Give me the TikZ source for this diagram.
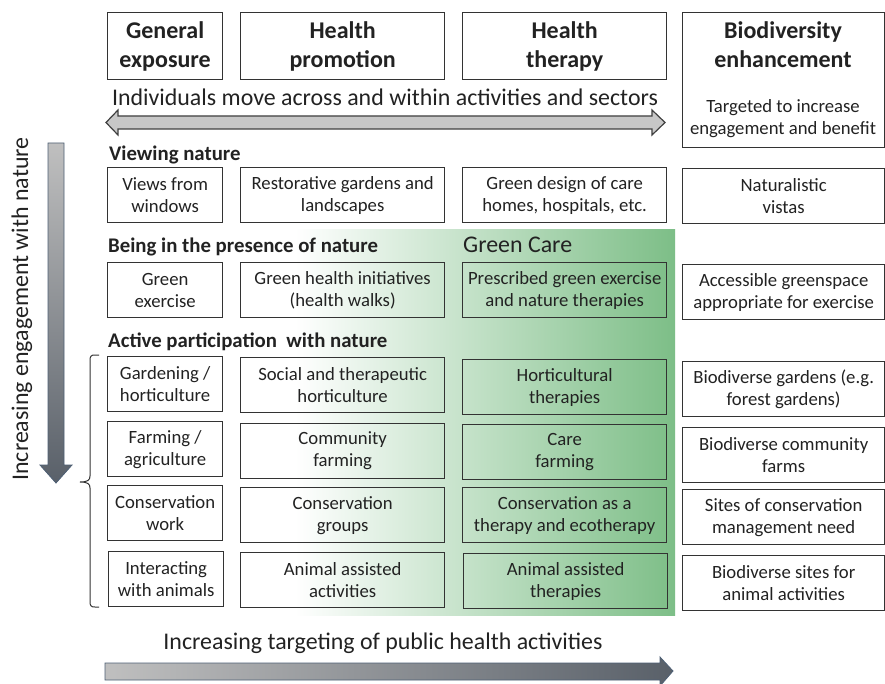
\documentclass[tikz,border=0pt]{standalone}
\usepackage{fontspec}
\setmainfont{Carlito}
\usetikzlibrary{calc}
\definecolor{txt}{HTML}{222222}
\definecolor{gc}{HTML}{7DBE87}
\definecolor{edgec}{HTML}{333333}
\definecolor{slate}{HTML}{596069}
\definecolor{slateedge}{HTML}{4E6075}
\newcommand\cellfont{\fontsize{18.7}{22}\selectfont}
\newcommand\hdrfont{\fontsize{24}{29}\selectfont\bfseries}
\newcommand\secfont{\fontsize{20.8}{24}\selectfont\bfseries}
\newcommand\bigfont{\fontsize{23.9}{28}\selectfont}
\tikzset{
  cell/.style={draw=edgec, line width=1.3pt, align=center, inner sep=0pt,
    anchor=north west, font=\cellfont, text=txt, minimum height=55pt},
  hcell/.style={cell, font=\hdrfont, minimum height=67pt},
  c1/.style={minimum width=115pt},
  c2/.style={minimum width=204pt},
  c3/.style={minimum width=204pt},
  c4/.style={minimum width=202pt},
  sec/.style={anchor=west, font=\secfont, text=txt, inner sep=0pt},
  big/.style={font=\bigfont, text=txt, inner sep=0pt},
}
\begin{document}
\begin{tikzpicture}[x=1pt,y=-1pt]
\useasboundingbox (0,0) rectangle (885,684);
\clip (0,0) rectangle (885,684);
\fill[white] (0,0) rectangle (885,684);
% green care background
\shade[left color=white, middle color=gc!70, right color=gc] (295,230) rectangle (675,615);
\node[big, anchor=west] (gcl) at (463,245) {Green Care};
% headers
\node[hcell, c1] (h1) at (107,12) {General\\exposure};
\node[hcell, c2] (h2) at (240,12) {Health\\promotion};
\node[hcell, c3] (h3) at (462,12) {Health\\therapy};
\node[cell, c4, minimum height=135pt] (h4) at (682,12) {};
\node[font=\hdrfont, text=txt, align=center, inner sep=0pt] (h4t) at (783,45) {Biodiversity\\enhancement};
\node[font=\cellfont, text=txt, align=center, inner sep=0pt] (h4s) at (783,119) {Targeted to increase\\engagement and benefit};
% across arrow
\node[big] (across) at (385,97) {Individuals move across and within activities and sectors};
\draw[fill=black!22, draw=black!75, line width=1.2pt, line join=miter]
  (106,122.5) -- (118,110) -- (118,116) -- (652,116) -- (652,110) -- (665,122.5)
  -- (652,135) -- (652,129) -- (118,129) -- (118,135) -- cycle;
% vertical arrow
\shade[top color=black!25, bottom color=slate]
  (48,143) -- (64,143) -- (64,465) -- (72,465) -- (56,483) -- (40,465) -- (48,465) -- cycle;
\draw[draw=slateedge, line width=0.8pt]
  (48,143) -- (64,143) -- (64,465) -- (72,465) -- (56,483) -- (40,465) -- (48,465) -- cycle;
\node[big, rotate=90] (eng) at (22,309) {Increasing engagement with nature};
% section labels
\node[sec] (s1) at (109,155) {Viewing nature};
\node[sec] (s2) at (108,247) {Being in the presence of nature};
\node[sec] (s3) at (108,342) {Active participation\ \ with nature};
% row: viewing
\node[cell, c1, fill=white] (v1) at (107,167) {Views from\\windows};
\node[cell, c2] (v2) at (240,167) {Restorative gardens and\\landscapes};
\node[cell, c3] (v3) at (462,167) {Green design of care\\homes, hospitals, etc.};
\node[cell, c4] (v4) at (682,168) {Naturalistic\\vistas};
% row: being
\node[cell, c1, fill=white] (b1) at (107,262) {Green\\exercise};
\node[cell, c2] (b2) at (240,262) {Green health initiatives\\(health walks)};
\node[cell, c3] (b3) at (462,262) {Prescribed green exercise\\and nature therapies};
\node[cell, c4] (b4) at (682,264) {Accessible greenspace\\appropriate for exercise};
% row: gardening
\node[cell, c1, fill=white] (g1) at (107,356) {Gardening /\\horticulture};
\node[cell, c2] (g2) at (240,357) {Social and therapeutic\\horticulture};
\node[cell, c3] (g3) at (462,359) {Horticultural\\therapies};
\node[cell, c4] (g4) at (682,361) {Biodiverse gardens (e.g.\\forest gardens)};
% row: farming
\node[cell, c1, fill=white] (f1) at (107,421) {Farming /\\agriculture};
\node[cell, c2] (f2) at (240,423) {Community\\farming};
\node[cell, c3] (f3) at (462,424) {Care\\farming};
\node[cell, c4] (f4) at (682,427) {Biodiverse community\\farms};
% row: conservation
\node[cell, c1, fill=white] (k1) at (107,485) {Conservation\\work};
\node[cell, c2] (k2) at (240,487) {Conservation\\groups};
\node[cell, c3] (k3) at (462,487) {Conservation as a\\therapy and ecotherapy};
\node[cell, c4] (k4) at (682,489) {Sites of conservation\\management need};
% row: animals
\node[cell, c1, fill=white] (a1) at (108,551) {Interacting\\with animals};
\node[cell, c2] (a2) at (240,552) {Animal assisted\\activities};
\node[cell, c3] (a3) at (463,553) {Animal assisted\\therapies};
\node[cell, c4] (a4) at (682,555) {Biodiverse sites for\\animal activities};
% brace
\draw[edgec, line width=1pt] (99,355) -- (95,355) .. controls (91,355) and (90,356) .. (90,361)
  -- (90,476) .. controls (90,480) and (88,482) .. (80,482)
  .. controls (88,482) and (90,484) .. (90,488) -- (90,601)
  .. controls (90,606) and (91,607) .. (95,607) -- (99,607);
% bottom
\node[big] (tgt) at (383,643) {Increasing targeting of public health activities};
\shade[left color=black!25, right color=slate]
  (105,663) -- (660,663) -- (660,657) -- (673,671) -- (660,686) -- (660,680) -- (105,680) -- cycle;
\draw[draw=slateedge, line width=0.8pt]
  (105,663) -- (660,663) -- (660,657) -- (673,671) -- (660,686) -- (660,680) -- (105,680) -- cycle;
\end{tikzpicture}
\end{document}
